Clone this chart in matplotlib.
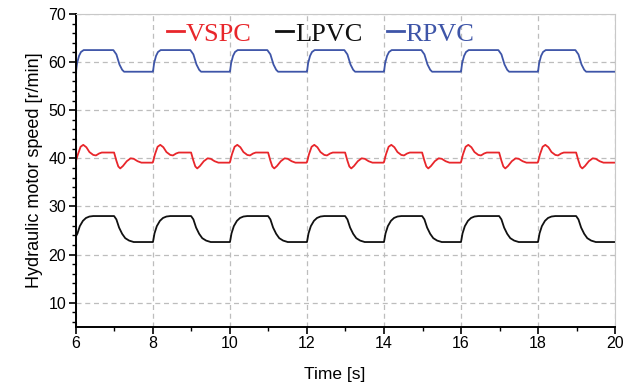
import numpy as np
import matplotlib
matplotlib.use("Agg")
import matplotlib.pyplot as plt
from matplotlib.ticker import MultipleLocator

# Один период (2 с) каждой кривой; циклы начинаются в 6, 8, ..., 18 с
cycle_starts = [6, 8, 10, 12, 14, 16, 18]
t_end = 20

rpvc_dt = [0.0, 0.03, 0.08, 0.13, 0.20, 0.97, 1.05, 1.13, 1.20, 1.25, 1.99]
rpvc_v = [58.0, 59.8, 61.3, 62.1, 62.5, 62.5, 61.6, 59.5, 58.4, 58.0, 58.0]

lpvc_dt = [0.0, 0.04, 0.10, 0.18, 0.26, 0.35, 0.45, 0.99, 1.05, 1.12, 1.20, 1.28, 1.38, 1.50, 1.99]
lpvc_v = [22.6, 24.4, 25.9, 27.0, 27.6, 27.9, 28.0, 28.0, 27.3, 25.6, 24.3, 23.4, 22.9, 22.6, 22.6]

vspc_dt = [0.0, 0.05, 0.12, 0.19, 0.27, 0.35, 0.45, 0.52, 0.60, 0.67, 0.99, 1.05, 1.10,
           1.15, 1.22, 1.32, 1.42, 1.50, 1.60, 1.70, 1.99]
vspc_v = [39.2, 40.8, 42.4, 42.8, 42.3, 41.3, 40.7, 40.6, 41.0, 41.2, 41.2, 39.5, 38.3,
          37.9, 38.4, 39.4, 40.0, 39.9, 39.4, 39.1, 39.1]

# значения в самый первый момент (t = 6 с)
first_value = {"VSPC": 39.5, "LPVC": 23.8, "RPVC": 58.0}


def build(dt, v, first):
    t = np.concatenate([np.array(dt) + s for s in cycle_starts] + [[t_end]])
    y = np.concatenate([np.array(v) for _ in cycle_starts] + [[v[-1]]])
    y[0] = first
    return t, y


series = [
    ("VSPC", vspc_dt, vspc_v, "#e8262b"),
    ("LPVC", lpvc_dt, lpvc_v, "#111111"),
    ("RPVC", rpvc_dt, rpvc_v, "#3e55a8"),
]

fig = plt.figure(figsize=(6.33, 3.92), dpi=100)
ax = fig.add_axes([0.12, 0.1666, 0.8516, 0.7977])

for name, dt, v, col in series:
    t, y = build(dt, v, first_value[name])
    ax.plot(t, y, color=col, lw=1.3, label=name)

ax.set_xlim(6, 20)
ax.set_ylim(5, 70)
ax.xaxis.set_major_locator(MultipleLocator(2))
ax.xaxis.set_minor_locator(MultipleLocator(1))
ax.yaxis.set_major_locator(MultipleLocator(10))
ax.yaxis.set_minor_locator(MultipleLocator(2))
ax.set_yticks([10, 20, 30, 40, 50, 60, 70])

ax.grid(True, which="major", color="#bdbdbd", linestyle=(0, (4, 3)), lw=0.9)
ax.tick_params(which="major", direction="out", length=5, width=1.2, labelsize=11.5, pad=2)
ax.tick_params(which="minor", direction="out", length=3, width=1.0)
for lab in ax.get_xticklabels() + ax.get_yticklabels():
    lab.set_family("Liberation Sans")

for side in ["top", "right"]:
    ax.spines[side].set_color("#c8c8c8")
for side in ["left", "bottom"]:
    ax.spines[side].set_linewidth(1.4)

ax.set_xlabel("Time [s]", fontsize=12.5, family="Liberation Sans", labelpad=14)
ax.xaxis.set_label_coords(0.48, -0.13)
ax.set_ylabel("Hydraulic motor speed [r/min]", fontsize=13, family="Liberation Sans", labelpad=4)

leg = ax.legend(loc="upper center", bbox_to_anchor=(0.454, 1.05), ncol=3, frameon=False,
                handlelength=0.65, handletextpad=0.05, columnspacing=0.95,
                prop={"family": "Liberation Serif", "size": 19})
for line, text in zip(leg.get_lines(), leg.get_texts()):
    line.set_linewidth(2.0)
    text.set_color(line.get_color())

fig.savefig("out.png", dpi=100)
